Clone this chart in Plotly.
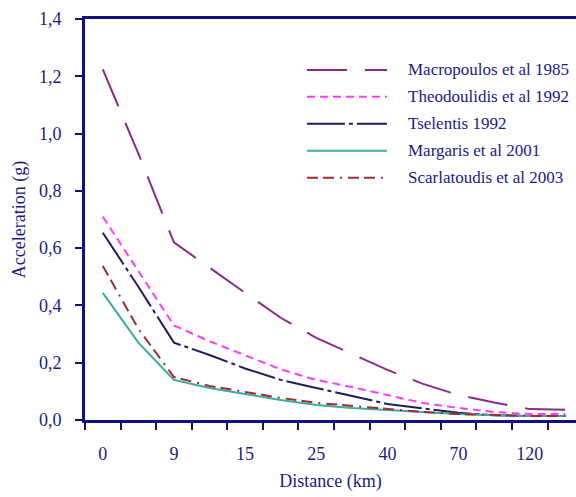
import plotly.graph_objects as go

# ---- data ----
x_index = list(range(14))                      # category bins along the distance axis
tick_positions = [0, 2, 4, 6, 8, 10, 12]
tick_labels = ["0", "9", "15", "25", "40", "70", "120"]

series_names = [
    "Macropoulos et al 1985",
    "Theodoulidis et al 1992",
    "Tselentis 1992",
    "Margaris et al 2001",
    "Scarlatoudis et al 2003",
]

macropoulos = [1.224, 0.93, 0.62, 0.531, 0.444, 0.357, 0.287, 0.231, 0.175, 0.126, 0.087, 0.061, 0.038, 0.036]
theodoulidis = [0.71, 0.52, 0.33, 0.275, 0.225, 0.177, 0.14, 0.115, 0.087, 0.059, 0.042, 0.028, 0.021, 0.021]
tselentis = [0.654, 0.465, 0.27, 0.227, 0.18, 0.14, 0.112, 0.084, 0.056, 0.04, 0.025, 0.017, 0.014, 0.014]
margaris = [0.444, 0.27, 0.14, 0.112, 0.091, 0.07, 0.052, 0.042, 0.035, 0.028, 0.021, 0.017, 0.014, 0.014]
scarlatoudis = [0.538, 0.318, 0.15, 0.119, 0.098, 0.077, 0.06, 0.049, 0.038, 0.028, 0.021, 0.017, 0.014, 0.014]

series_values = [macropoulos, theodoulidis, tselentis, margaris, scarlatoudis]

# ---- styles ----
colors = ["#8B2A8B", "#FF3CFF", "#1E1E5E", "#3AAAA2", "#9E2E2E"]
dashes = ["40px,18px", "8px,5px", "38px,4px,4px,4px", "solid", "11px,5px,11px,6px,2px,6px"]
navy = "#1a1a8a"
axis_navy = "#10107e"
font_family = "Liberation Serif, Times New Roman, serif"

fig = go.Figure()
for name, vals, c, d in zip(series_names, series_values, colors, dashes):
    fig.add_trace(go.Scatter(
        x=x_index, y=vals, mode="lines", name=name,
        line=dict(color=c, width=2, dash=d),
        showlegend=False,
    ))

# custom legend (long line samples like the original)
leg_x0, leg_x1, leg_tx = 0.452, 0.615, 0.654
leg_y0, leg_dy = 0.873, 0.0672
for i, (name, c, d) in enumerate(zip(series_names, colors, dashes)):
    yy = leg_y0 - i * leg_dy
    fig.add_shape(type="line", xref="paper", yref="paper",
                  x0=leg_x0, x1=leg_x1, y0=yy, y1=yy,
                  line=dict(color=c, width=2, dash=d))
    fig.add_annotation(xref="paper", yref="paper", x=leg_tx, y=yy,
                       text=name, showarrow=False, xanchor="left", yanchor="middle",
                       font=dict(family=font_family, size=17, color=navy))

fig.update_layout(
    width=576, height=497,
    margin=dict(l=85, r=0, t=19, b=77),
    paper_bgcolor="white", plot_bgcolor="white",
    separators=",.",
    font=dict(family=font_family, color=navy, size=18),
    showlegend=False,
)

fig.update_xaxes(
    range=[-0.5, 13.3], automargin=False,
    tickmode="array", tickvals=tick_positions, ticktext=tick_labels,
    ticks="", ticklabelstandoff=15,
    minor=dict(tick0=-0.5, dtick=1, ticks="outside", ticklen=7, tickwidth=2, tickcolor=axis_navy),
    showline=True, linecolor=axis_navy, linewidth=3, mirror=True,
    showgrid=False, zeroline=False,
    tickfont=dict(family=font_family, size=18, color=navy),
    title=dict(text="Distance (km)", font=dict(family=font_family, size=18, color=navy), standoff=12),
)
fig.update_yaxes(
    range=[0, 1.4], dtick=0.2, tick0=0, tickformat=".1f", automargin=False,
    ticks="outside", ticklen=7, tickwidth=2, tickcolor=axis_navy, ticklabelstandoff=10,
    showline=True, linecolor=axis_navy, linewidth=3,
    showgrid=False, zeroline=False,
    tickfont=dict(family=font_family, size=18, color=navy),
    title=dict(text="Acceleration (g)", font=dict(family=font_family, size=18, color=navy), standoff=9),
)

fig.write_html("out.html", config={"displayModeBar": False},
               post_script="document.body.style.margin='0';")
